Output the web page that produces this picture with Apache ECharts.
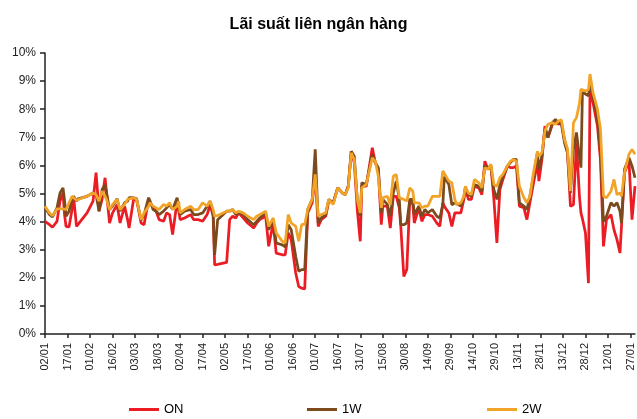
<!DOCTYPE html>
<html><head><meta charset="utf-8">
<script src="https://cdn.jsdelivr.net/npm/echarts@6/dist/echarts.min.js"></script>
<style>html,body{margin:0;padding:0;background:#fff}#c{width:637px;height:419px}</style>
</head><body><div id="c"></div>
<script>
// days counted from 02/01 (start of series)
const days = [0,3,5,8,10,12,13,14,16,18,19,21,22,28,32,34,36,38,40,41,43,45,48,50,53,55,56,59,61,64,66,
69,70,72,74,76,79,81,83,85,88,89,90,93,97,99,102,105,108,110,112,113,115,121,123,125,127,129,132,135,139,141,143,147,149,152,154,158,160,162,164,167,169,171,173,175,178,180,182,184,187,189,192,195,198,200,202,204,206,208,210,211,214,218,220,222,224,225,228,230,232,234,236,237,239,241,243,245,246,249,251,253,255,258,261,263,265,266,269,271,273,274,277,279,280,282,284,286,289,291,293,295,297,299,301,303,305,308,310,312,314,316,319,321,323,325,328,329,331,333,335,338,340,342,344,346,348,350,352,354,356,357,358,360,362,363,365,368,370,372,374,377,379,381,383,384,386,389,391,393];
const onRate = [4.01,3.89,3.80,4.01,4.73,5.02,4.25,3.83,3.81,4.43,4.9,3.83,3.89,4.31,4.73,5.74,4.37,4.79,5.56,5.5,3.95,4.31,4.6,3.95,4.55,4.07,3.77,4.79,4.79,3.95,3.89,
4.79,4.73,4.49,4.37,4.07,4.01,4.31,4.25,3.54,4.73,4.79,4.07,4.13,4.25,4.07,4.07,4.01,4.25,4.6,4.19,2.46,2.48,2.55,4.07,4.19,4.13,4.31,4.13,3.95,3.77,3.95,4.07,4.19,3.12,3.95,2.88,2.82,2.82,3.6,3.36,2.17,1.69,1.63,1.6,4.31,4.67,5.62,3.83,4.07,4.19,4.73,4.67,5.2,5.02,4.96,5.26,6.5,6.1,4.43,3.3,5.26,5.26,6.63,6.1,5.86,3.89,4.55,4.55,3.77,4.9,4.9,4.49,3.83,2.05,2.3,4.79,4.61,3.95,4.49,4.01,4.25,4.25,4.19,3.95,3.83,4.67,4.55,4.31,3.83,4.31,4.37,4.31,4.79,5.2,4.79,4.79,5.26,5.2,4.96,6.15,5.86,5.98,4.79,3.24,5.14,5.5,5.98,5.92,5.92,5.98,4.55,4.49,4.07,4.67,5.26,6.1,5.44,6.21,7.4,6.99,7.46,7.58,7.46,7.52,6.93,6.5,4.55,4.6,6.8,4.9,4.31,4.1,3.6,1.81,8.6,8.24,7.4,6.2,3.12,4.07,4.25,3.71,3.36,2.88,2.82,5.74,6.15,4.07,5.26];
const w1Rate = [4.49,4.25,4.17,4.49,5.02,5.20,4.76,4.19,4.37,4.79,4.9,4.73,4.81,4.9,5.02,4.96,4.37,5.14,5.30,5.02,4.43,4.55,4.81,4.37,4.67,4.73,4.85,4.85,4.81,4.05,4.25,
4.85,4.73,4.43,4.37,4.25,4.37,4.49,4.61,4.43,4.85,4.85,4.25,4.37,4.43,4.25,4.25,4.31,4.55,4.73,4.31,2.82,4.07,4.37,4.37,4.43,4.25,4.31,4.25,4.07,3.89,4.01,4.13,4.31,3.71,4.07,3.24,3.17,3.10,3.89,3.71,2.76,2.23,2.29,2.29,4.43,4.79,6.57,3.95,4.13,4.25,4.79,4.67,5.2,5.02,4.96,5.26,6.5,6.33,4.79,4.19,5.38,5.32,6.39,6.1,5.92,4.31,4.79,4.61,4.19,5.02,5.44,4.79,3.89,3.89,3.95,4.79,4.79,4.25,4.55,4.19,4.43,4.31,4.43,4.19,4.13,4.61,5.6,5.32,4.6,4.67,4.6,4.55,4.85,5.2,4.96,4.9,5.32,5.26,5.08,5.98,5.92,5.98,5.14,4.79,5.32,5.62,5.98,6.1,6.21,6.21,4.67,4.55,4.43,4.9,5.5,6.45,5.86,6.33,7.29,6.99,7.52,7.64,7.52,7.46,6.81,6.45,5.02,6.57,7.17,6.3,5.92,8.65,8.54,8.48,8.9,8.48,7.64,6.45,4.0,4.19,4.67,4.55,4.67,4.37,3.95,5.86,6.27,5.98,5.56];
const w2Rate = [4.55,4.31,4.21,4.45,4.45,4.45,4.45,4.43,4.67,4.9,4.96,4.76,4.76,4.9,5.02,4.96,4.73,5.08,4.9,4.79,4.43,4.61,4.79,4.43,4.61,4.79,4.85,4.85,4.79,4.07,4.31,
4.55,4.67,4.55,4.49,4.43,4.61,4.55,4.67,4.43,4.55,4.73,4.31,4.43,4.55,4.43,4.43,4.67,4.55,4.73,4.43,4.19,4.22,4.37,4.37,4.43,4.31,4.37,4.31,4.19,4.07,4.19,4.25,4.37,3.83,4.13,3.6,3.3,3.24,4.25,3.95,3.83,3.3,3.9,3.9,4.43,4.79,5.68,4.19,4.25,4.31,4.79,4.61,5.2,5.02,4.96,5.2,6.45,6.2,4.79,4.31,5.2,5.32,6.27,6.15,5.62,4.49,4.85,4.9,4.6,5.62,5.68,4.85,4.85,4.79,4.73,5.2,5.08,4.67,4.67,4.49,4.55,4.55,4.9,4.9,4.9,5.8,5.8,5.44,5.38,4.79,4.6,4.67,4.9,5.26,5.02,4.96,5.5,5.38,5.2,5.92,5.86,6.04,5.32,5.26,5.56,5.68,5.98,6.15,6.21,6.15,5.26,4.85,4.67,4.9,5.62,6.5,6.33,6.45,7.23,7.46,7.52,7.46,7.58,7.62,6.93,6.6,5.08,7.52,7.7,8.2,8.71,8.71,8.65,8.7,9.25,8.6,8.0,7.29,4.9,4.85,5.08,5.5,4.96,5.02,4.9,5.74,6.4,6.57,6.4];
const seriesNames = ['ON', '1W', '2W'];
const seriesColors = ['#EC1C24', '#7C4A1C', '#F2A428'];
const tickDays = [0,15,30,45,60,75,90,105,120,135,150,165,180,195,210,225,240,255,270,285,300,315,330,345,360,375,390];

function dayLabel(d) {
  const dt = new Date(Date.UTC(2017, 0, 2 + d));
  const dd = String(dt.getUTCDate()).padStart(2, '0');
  const mm = String(dt.getUTCMonth() + 1).padStart(2, '0');
  return dd + '/' + mm;
}
const rates = [onRate, w1Rate, w2Rate];
const font = 'Liberation Sans, Arial, sans-serif';
const chart = echarts.init(document.getElementById('c'), null, {renderer: 'canvas'});
chart.setOption({
  animation: false,
  backgroundColor: '#fff',
  title: {text: 'Lãi suất liên ngân hàng', left: 'center', top: 12,
    textStyle: {fontFamily: font, fontSize: 16, fontWeight: 'bold', color: '#000'}},
  grid: {left: 45, right: 2, top: 53, bottom: 85},
  xAxis: {type: 'value', min: 0, max: 393, interval: 15,
    axisLine: {lineStyle: {color: '#222', width: 1.5}},
    axisTick: {show: true, length: 4, customValues: tickDays, lineStyle: {color: '#222', width: 1.5}},
    axisLabel: {customValues: tickDays, rotate: 90, margin: 9, fontFamily: font, fontSize: 11, color: '#222',
      formatter: v => dayLabel(v)},
    splitLine: {show: false}},
  yAxis: {type: 'value', min: 0, max: 10, interval: 1,
    axisLine: {show: true, lineStyle: {color: '#222', width: 1.5}},
    axisTick: {show: true, length: 5, lineStyle: {color: '#222', width: 1.5}},
    axisLabel: {margin: 9, fontFamily: font, fontSize: 12, color: '#222', formatter: v => v + '%'},
    splitLine: {show: false}},
  legend: [0,1,2].map((i) => ({
    data: [seriesNames[i]], left: [129, 307, 487][i], top: 403, padding: 0,
    icon: 'rect', itemWidth: 30, itemHeight: 3,
    textStyle: {fontFamily: font, fontSize: 13, color: '#000'}
  })),
  series: [0,1,2].map(i => ({
    name: seriesNames[i], type: 'line', showSymbol: false, symbol: 'none',
    color: seriesColors[i],
    lineStyle: {width: 2.75, color: seriesColors[i]},
    data: days.map((d, k) => [d, rates[i][k]])
  }))
});
</script></body></html>
